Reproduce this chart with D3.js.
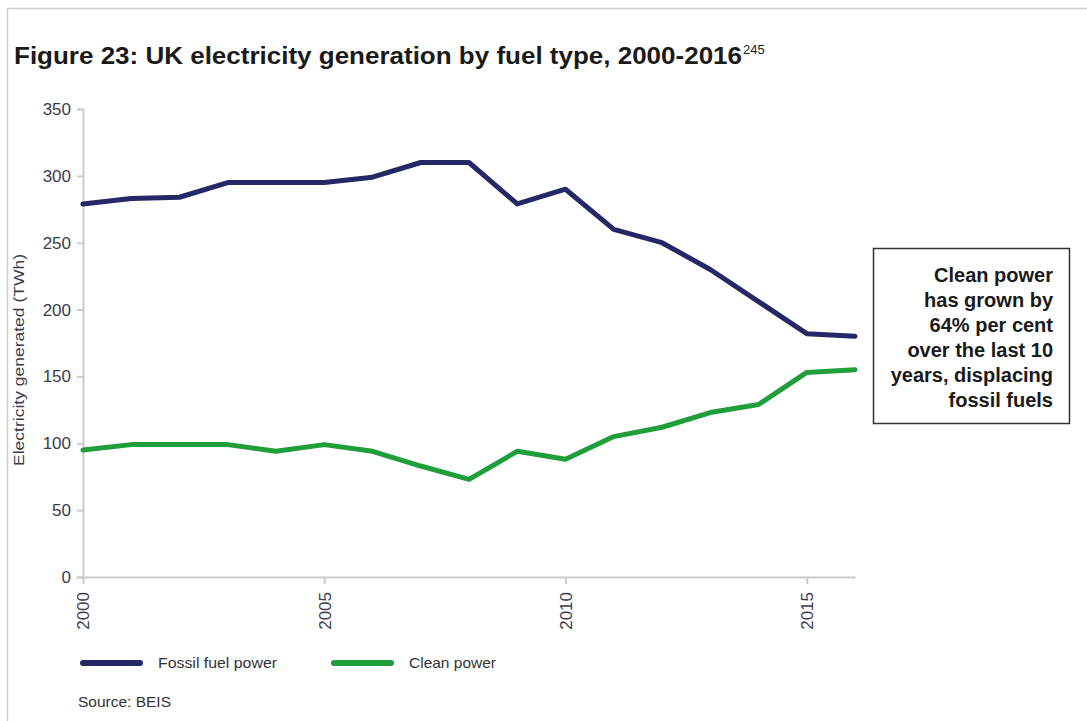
<!DOCTYPE html>
<html>
<head>
<meta charset="utf-8">
<script src="https://cdn.jsdelivr.net/npm/d3@7"></script>
<style>
  body { margin: 0; background: #fff; }
  text { font-family: "Liberation Sans", Arial, sans-serif; }
</style>
</head>
<body>
<div id="chart"></div>
<script>
// chart data
var years = [2000, 2001, 2002, 2003, 2004, 2005, 2006, 2007, 2008, 2009, 2010, 2011, 2012, 2013, 2014, 2015, 2016];
var fossil = [279, 283, 284, 295, 295, 295, 299, 310, 310, 279, 290, 260, 250, 230, 206, 182, 180];
var clean = [95, 99, 99, 99, 94, 99, 94, 83, 73, 94, 88, 105, 112, 123, 129, 153, 155];
var yTicks = [0, 50, 100, 150, 200, 250, 300, 350];
var xTicks = [2000, 2005, 2010, 2015];
var seriesNames = ["Fossil fuel power", "Clean power"];
var seriesColors = ["#262766", "#1f9e3a"];
var noteLines = ["Clean power", "has grown by", "64% per cent", "over the last 10", "years, displacing", "fossil fuels"];

var width = 1087, height = 721;

var svg = d3.select('#chart').append('svg')
  .attr('width', width)
  .attr('height', height);

// light frame round the figure
svg.append('rect')
  .attr('x', 7.5).attr('y', 8.5)
  .attr('width', 1090).attr('height', 720)
  .attr('fill', 'none')
  .attr('stroke', '#d0d0d0')
  .attr('stroke-width', 1.5);

// title, fitted to the width it has in the picture, then superscript
svg.append('text')
  .attr('x', 14).attr('y', 64)
  .attr('font-size', 24)
  .attr('font-weight', 'bold')
  .attr('fill', '#1a1a1a')
  .attr('textLength', 728)
  .attr('lengthAdjust', 'spacingAndGlyphs')
  .text('Figure 23: UK electricity generation by fuel type, 2000-2016');
svg.append('text')
  .attr('x', 743).attr('y', 54)
  .attr('font-size', 13)
  .attr('fill', '#1a1a1a')
  .text('245');

// scales
var x = d3.scaleLinear().domain([2000, 2016]).range([83, 855]);
var y = d3.scaleLinear().domain([0, 350]).range([577, 109]);

// y axis
var yAxis = svg.append('g')
  .attr('transform', 'translate(83,0)')
  .call(d3.axisLeft(y).tickValues(yTicks).tickSize(6).tickPadding(6));
yAxis.select('.domain').attr('stroke', '#cccccc').attr('stroke-width', 2);
yAxis.selectAll('.tick line').attr('stroke', '#cccccc').attr('stroke-width', 2);
yAxis.selectAll('.tick text')
  .attr('font-size', 17)
  .attr('fill', '#3c3c4c')
  .attr('font-family', '"Liberation Sans", Arial, sans-serif');

// x axis
var xAxis = svg.append('g')
  .attr('transform', 'translate(0,577)')
  .call(d3.axisBottom(x).tickValues(xTicks).tickFormat(d3.format('d')).tickSize(7).tickSizeOuter(0));
xAxis.select('.domain').attr('stroke', '#cccccc').attr('stroke-width', 2);
xAxis.selectAll('.tick line').attr('stroke', '#cccccc').attr('stroke-width', 2);
xAxis.selectAll('.tick text')
  .attr('font-size', 17)
  .attr('fill', '#3c3c4c')
  .attr('font-family', '"Liberation Sans", Arial, sans-serif')
  .attr('text-anchor', 'end')
  .attr('transform', 'rotate(-90)')
  .attr('x', -15)
  .attr('y', 0)
  .attr('dy', '0.35em');

// y axis label
svg.append('text')
  .attr('transform', 'translate(24,360) rotate(-90)')
  .attr('text-anchor', 'middle')
  .attr('font-size', 15)
  .attr('fill', '#3c3c4c')
  .attr('textLength', 212)
  .attr('lengthAdjust', 'spacingAndGlyphs')
  .text('Electricity generated (TWh)');

// lines
var line = d3.line()
  .x(function (d, i) { return x(years[i]); })
  .y(function (d) { return y(d); });

[fossil, clean].forEach(function (s, k) {
  svg.append('path')
    .datum(s)
    .attr('d', line)
    .attr('fill', 'none')
    .attr('stroke', seriesColors[k])
    .attr('stroke-width', 5)
    .attr('stroke-linejoin', 'round')
    .attr('stroke-linecap', 'round');
});

// annotation box
svg.append('rect')
  .attr('x', 873.5).attr('y', 248.5)
  .attr('width', 196).attr('height', 175)
  .attr('fill', '#fff')
  .attr('stroke', '#333')
  .attr('stroke-width', 1.5);

svg.append('g').selectAll('text')
  .data(noteLines)
  .enter()
  .append('text')
  .attr('x', 1053)
  .attr('y', function (d, i) { return 282 + i * 25; })
  .attr('text-anchor', 'end')
  .attr('font-size', 20)
  .attr('font-weight', 'bold')
  .attr('fill', '#1a1a1a')
  .text(function (d) { return d; });

// legend
var legendX = [80, 331];
var legendTextLen = [119, 87];
seriesNames.forEach(function (name, k) {
  svg.append('line')
    .attr('x1', legendX[k] + 3).attr('x2', legendX[k] + 60)
    .attr('y1', 663).attr('y2', 663)
    .attr('stroke', seriesColors[k])
    .attr('stroke-width', 6)
    .attr('stroke-linecap', 'round');
  svg.append('text')
    .attr('x', legendX[k] + 78)
    .attr('y', 668)
    .attr('font-size', 15)
    .attr('fill', '#333')
    .attr('textLength', legendTextLen[k])
    .attr('lengthAdjust', 'spacingAndGlyphs')
    .text(name);
});

// source
svg.append('text')
  .attr('x', 78).attr('y', 707)
  .attr('font-size', 15)
  .attr('fill', '#333')
  .attr('textLength', 93)
  .attr('lengthAdjust', 'spacingAndGlyphs')
  .text('Source: BEIS');
</script>
</body>
</html>
